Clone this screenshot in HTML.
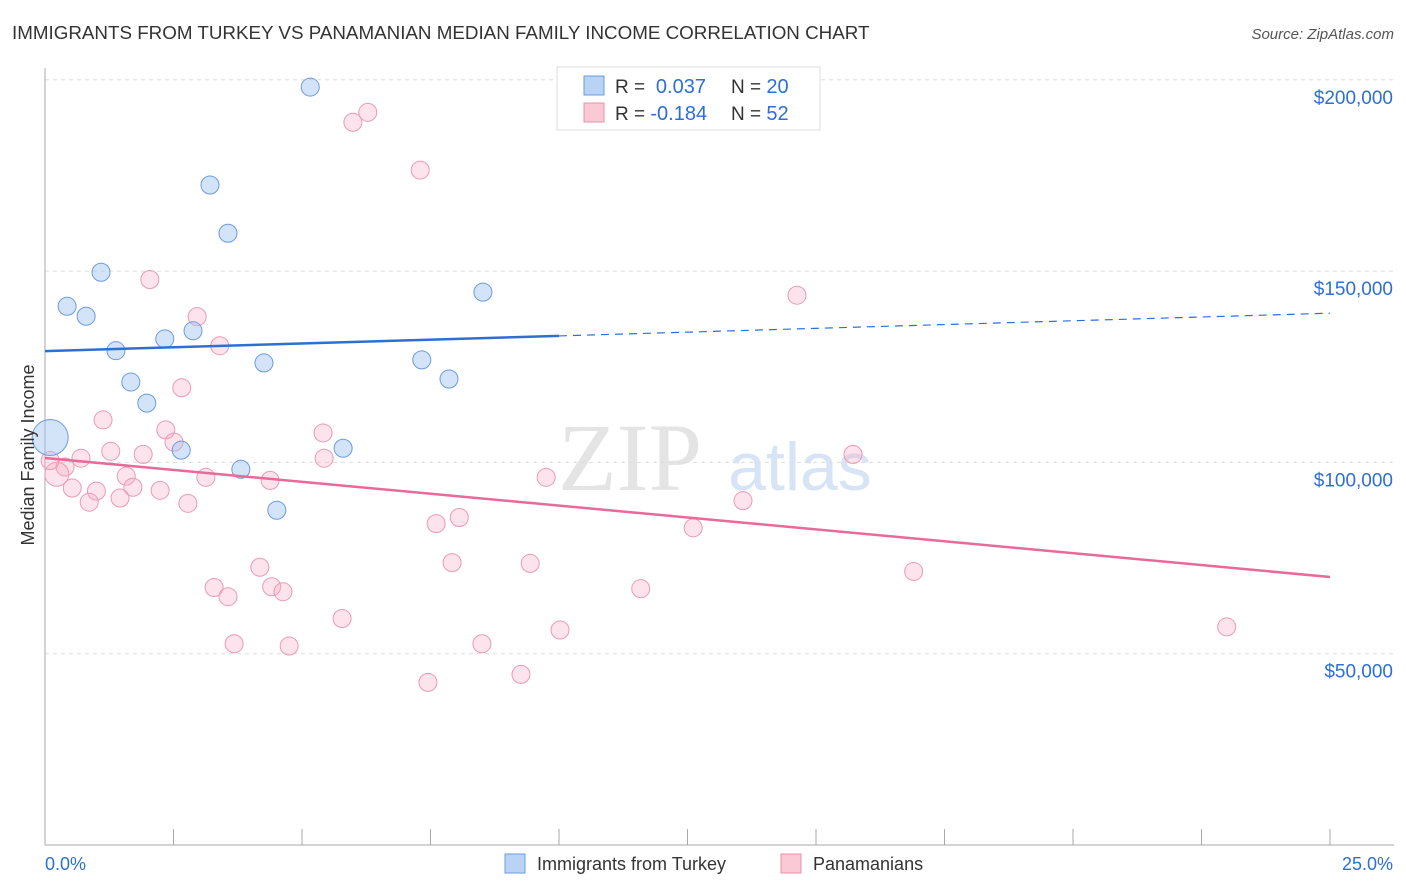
<!DOCTYPE html>
<html><head><meta charset="utf-8"><style>
body{margin:0;background:#fff;font-family:"Liberation Sans",sans-serif}
svg{display:block}
</style></head><body>
<svg id="c" width="1406" height="892">
<text x="12" y="39" font-size="18.8" fill="#333">IMMIGRANTS FROM TURKEY VS PANAMANIAN MEDIAN FAMILY INCOME CORRELATION CHART</text>
<text x="1394" y="39" font-size="15" fill="#555" font-style="italic" text-anchor="end">Source: ZipAtlas.com</text>
<text x="630" y="490" font-size="96" fill="#e4e4e4" font-family="Liberation Serif,serif" text-anchor="middle">ZIP</text>
<text x="800" y="490" font-size="68" fill="#d6e4f5" text-anchor="middle">atlas</text>
<g id="grid"></g><g id="marks"></g>
<text transform="translate(34,455) rotate(-90)" font-size="18" fill="#333" text-anchor="middle">Median Family Income</text>
<g>
<rect x="557" y="67" width="263" height="63" fill="#fff" stroke="#ddd"/>
<rect x="584" y="76" width="20" height="19" fill="#b9d3f5" stroke="#6a9be0"/>
<rect x="584" y="103" width="20" height="19" fill="#fbc8d6" stroke="#e890aa"/>
<text x="615" y="93" font-size="19" fill="#333">R = <tspan fill="#2d6fd6" font-size="20">&#160;0.037</tspan><tspan x="731">N = </tspan><tspan fill="#2d6fd6" font-size="20">20</tspan></text>
<text x="615" y="120" font-size="19" fill="#333">R = <tspan fill="#2d6fd6" font-size="20">-0.184</tspan><tspan x="731">N = </tspan><tspan fill="#2d6fd6" font-size="20">52</tspan></text>
</g>
<g>
<rect x="505" y="854" width="20" height="19" fill="#b9d3f5" stroke="#6a9be0"/>
<text x="537" y="870" font-size="18" fill="#333">Immigrants from Turkey</text>
<rect x="781" y="854" width="20" height="19" fill="#fbc8d6" stroke="#e890aa"/>
<text x="813" y="870" font-size="18" fill="#333">Panamanians</text>
</g>
</svg>
<script>
const yTicks=[50000,100000,150000,200000];
const yTickLabels=["$50,000","$100,000","$150,000","$200,000"];
const xTickLabels=["0.0%","25.0%"];
const turkeyX=[5.16,3.21,3.56,1.09,0.43,0.80,8.52,2.33,2.88,1.38,4.26,7.33,7.86,1.67,1.98,2.65,5.80,3.81,4.51,0.10];
const turkeyY=[198100,172500,159900,149700,140800,138200,144500,132300,134400,129200,126000,126800,121800,121000,115500,103200,103700,98200,87500,106500];
const turkeyR=[9,9,9,9,9,9,9,9,9,9,9,9,9,9,9,9,9,9,9,18];
const panX=[6.28,5.99,7.30,2.04,2.96,3.40,2.66,1.13,2.35,2.51,5.41,5.43,1.28,1.91,0.70,0.39,0.23,0.10,0.53,1.00,0.86,1.46,1.58,1.71,2.24,2.78,3.13,4.38,9.75,15.72,14.63,13.58,12.61,7.61,8.06,7.92,9.44,4.18,3.29,3.56,4.41,4.63,11.59,16.90,5.78,3.68,4.75,8.50,10.02,22.99,7.45,9.26];
const panY=[191500,188900,176400,147800,138100,130500,119500,111100,108500,105300,107700,101100,102900,102100,101100,98800,96900,100500,93300,92500,89600,90700,96400,93500,92700,89300,96100,95300,96100,102100,143700,90000,82900,84000,85600,73800,73600,72600,67300,64900,67500,66200,67000,71500,59200,52600,52000,52600,56200,57000,42500,44600];
const panR=[9,9,9,9,9,9,9,9,9,9,9,9,9,9,9,9,12,9,9,9,9,9,9,9,9,9,9,9,9,9,9,9,9,9,9,9,9,9,9,9,9,9,9,9,9,9,9,9,9,9,9,9];
const turkeyTrend=[129100,139000];
const panTrend=[101150,70050];
const NS="http://www.w3.org/2000/svg";
const X0=45,X1=1330,Y0=845,PX50=191.3;
function sx(v){return X0+(v/25)*(X1-X0);}
function sy(v){return Y0-v/50000*PX50;}
function mk(t,a,p){const e=document.createElementNS(NS,t);for(const k in a)e.setAttribute(k,a[k]);p.appendChild(e);return e;}
const grid=document.getElementById('grid'),marks=document.getElementById('marks');
yTicks.forEach((v,i)=>{
 const l=mk('line',{x1:X0,x2:1394,y1:sy(v),y2:sy(v),stroke:'#ddd','stroke-dasharray':'4,4'},grid);
 
 
 const t=mk('text',{x:1393,y:sy(v)+24,'font-size':19,fill:'#2d6fd6','text-anchor':'end'},grid);
 t.textContent=yTickLabels[i];
 
 
});
const ax=mk('line',{x1:X0,x2:X0,y1:68,y2:845,stroke:'#aaa'},grid);


const bx=mk('line',{x1:X0,x2:1394,y1:845,y2:845,stroke:'#aaa'},grid);


for(let i=1;i<=10;i++){const v=i*2.5;const tk=mk('line',{x1:sx(v),x2:sx(v),y1:829,y2:845,stroke:'#aaa'},grid);
 
 }
xTickLabels.forEach((s,i)=>{const t=mk('text',{x:i?1393:45,y:870,'font-size':18,fill:'#2d6fd6','text-anchor':i?'end':'start'},grid);t.textContent=s;
 
 });
panX.forEach((x,i)=>{const c=mk('circle',{cx:sx(x),cy:sy(panY[i]),r:panR[i],fill:'rgba(248,175,198,0.35)',stroke:'#eb9ab4','stroke-width':1},marks);
 
 });
turkeyX.forEach((x,i)=>{const c=mk('circle',{cx:sx(x),cy:sy(turkeyY[i]),r:turkeyR[i],fill:'rgba(160,196,240,0.45)',stroke:'#6a9be0','stroke-width':1},marks);
 
 });
const tm=turkeyTrend[0]+(turkeyTrend[1]-turkeyTrend[0])*(10/25);
const t1=mk('line',{x1:sx(0),y1:sy(turkeyTrend[0]),x2:sx(10),y2:sy(tm),stroke:'#2d6fd6','stroke-width':2.5},marks);


const t2=mk('line',{x1:sx(10),y1:sy(tm),x2:sx(25),y2:sy(turkeyTrend[1]),stroke:'#2d6fd6','stroke-width':1.2,'stroke-dasharray':'8,6'},marks);


const p1=mk('line',{x1:sx(0),y1:sy(panTrend[0]),x2:sx(25),y2:sy(panTrend[1]),stroke:'#e8699a','stroke-width':2.5},marks);


</script>
</body></html>
